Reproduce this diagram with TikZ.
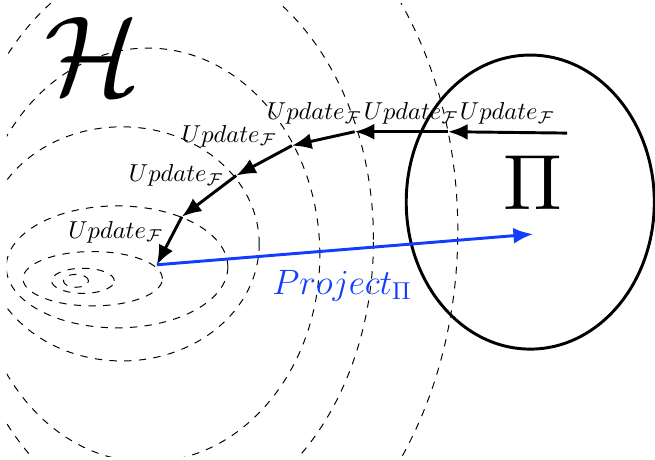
\documentclass[tikz,border=0pt]{standalone}
\usepackage{amssymb,amsmath}
\usetikzlibrary{arrows.meta}
\definecolor{projblue}{RGB}{20,60,255}

\begin{document}
\begin{tikzpicture}[
    level/.style={dashed,thin},
    update/.style={very thick,-{Latex[length=8pt,width=6.5pt]}},
    project/.style={very thick,projblue,-{Latex[length=8pt,width=6.5pt]}}]
\useasboundingbox (0,0) rectangle (9.4,6.6);
\begin{scope}
\clip (0.1,0.05) rectangle (9.4,6.55);
\draw[level] (1.09,2.57) ellipse (0.18 and 0.093);
\draw[level] (1.19,2.57) ellipse (0.45 and 0.18);
\draw[level] (1.33,2.60) ellipse (1.00 and 0.39);
\draw[level] (1.68,2.77) ellipse (1.59 and 0.875);
\draw[level] (1.75,3.10) ellipse (1.97 and 1.68);
\draw[level] (2.12,2.94) ellipse (2.47 and 2.97);
\draw[level] (2.37,3.16) ellipse (2.99 and 4.06);
\draw[level] (2.65,3.29) ellipse (3.92 and 5.35);
\end{scope}
\draw[very thick] (7.61,3.70) ellipse (1.78 and 2.11);
\node[scale=4.6,inner sep=0pt] (H) at (1.33,5.80) {$\mathcal{H}$};
\node[scale=3.2,inner sep=0pt] (Pi) at (7.65,3.98) {$\Pi$};
\coordinate (0) at (2.25,2.80);
\coordinate (1) at (2.61,3.49);
\coordinate (2) at (3.39,4.08);
\coordinate (3) at (4.19,4.51);
\coordinate (4) at (5.09,4.71);
\coordinate (5) at (6.43,4.71);
\coordinate (6) at (8.14,4.69);
\coordinate (q) at (7.65,3.24);
\draw[update] (6) -- (5);
\draw[update] (5) -- (4);
\draw[update] (4) -- (3);
\draw[update] (3) -- (2);
\draw[update] (2) -- (1);
\draw[update] (1) -- (0);
\draw[project] (0) -- (q);
\node (u6) at (7.28,4.97) {$Update_{\mathcal{F}}$};
\node (u5) at (5.90,4.97) {$Update_{\mathcal{F}}$};
\node (u4) at (4.51,4.97) {$Update_{\mathcal{F}}$};
\node (u3) at (3.29,4.65) {$Update_{\mathcal{F}}$};
\node (u2) at (2.53,4.08) {$Update_{\mathcal{F}}$};
\node (u1) at (1.66,3.27) {$Update_{\mathcal{F}}$};
\node[projblue] (pr) at (4.91,2.50) {\Large $Project_{\Pi}$};
\end{tikzpicture}
\end{document}
